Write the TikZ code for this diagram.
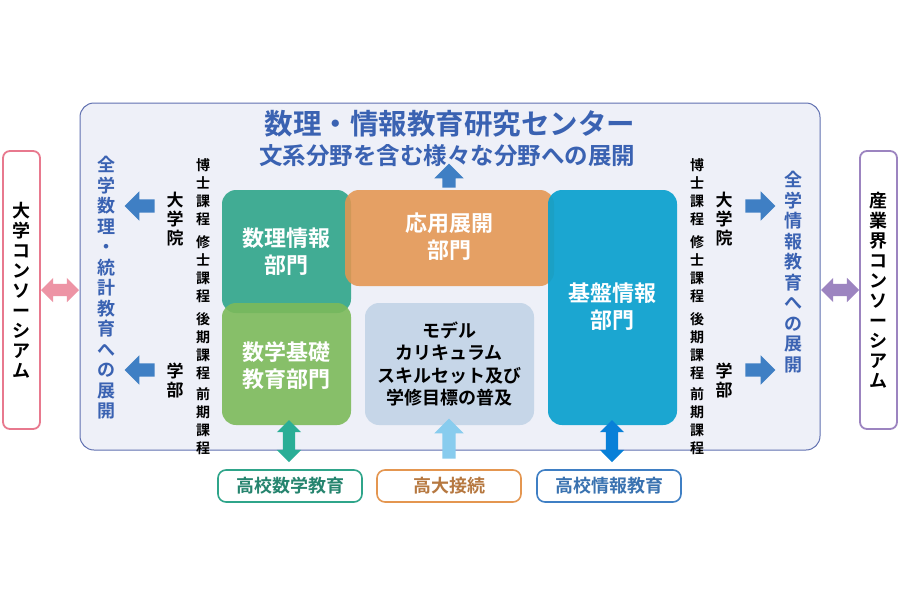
\documentclass[tikz,border=0pt]{standalone}
\usepackage{fontspec}
\setmainfont{Noto Sans CJK JP}
\newfontfamily\jb{Noto Sans CJK JP Bold}
\usetikzlibrary{shapes.arrows}
\definecolor{ttl}{HTML}{3A62B2}
\definecolor{outerb}{HTML}{6070B0}
\definecolor{outerf}{HTML}{EEF0F8}
\definecolor{cteal}{HTML}{2FA58A}
\definecolor{cgreen}{HTML}{7CBA5A}
\definecolor{corange}{HTML}{E49650}
\definecolor{cblue}{HTML}{0AA0CE}
\definecolor{clight}{HTML}{C6D6E8}
\definecolor{cpink}{HTML}{E8798E}
\definecolor{cpurple}{HTML}{9C84C0}
\definecolor{arrblue}{HTML}{3F7FC4}
\definecolor{arrlight}{HTML}{88CCEE}
\tikzset{
 x=1pt,y=-1pt,
 dept/.style={text=white,font=\jb\fontsize{22}{27}\selectfont,align=center,inner sep=0},
 vt/.style={font=\jb\fontsize{14}{18}\selectfont,align=center,inner sep=0},
 vtb/.style={font=\jb\fontsize{17}{19}\selectfont,align=center,inner sep=0},
 side/.style={font=\jb\fontsize{18}{20.5}\selectfont,align=center,text=ttl,inner sep=0},
 bot/.style={draw,line width=1.6pt,rounded corners=8pt,fill=white,minimum width=144pt,minimum height=32pt,font=\jb\fontsize{18}{20}\selectfont},
 sarr/.style={single arrow,draw=none,inner sep=6.5pt,single arrow head extend=8pt,single arrow head indent=0pt},
 darr/.style={double arrow,draw=none,inner sep=6pt,double arrow head extend=6pt,double arrow head indent=0pt},
}
\begin{document}
\begin{tikzpicture}
\useasboundingbox (0,0) rectangle (900,600);
\fill[white] (0,0) rectangle (900,600);
% outer
\draw[outerb,fill=outerf,line width=1pt,rounded corners=14pt] (80,103) rectangle (820,450);
\node (outer) at (450,276) {};
\node[font=\jb\fontsize{28.5}{30}\selectfont,text=ttl] (title) at (450,124) {数理・情報教育研究センター};
\node[font=\jb\fontsize{23.5}{26}\selectfont,text=ttl] (sub) at (447,156) {文系分野を含む様々な分野への展開};
% side boxes
\draw[cpink,line width=1.8pt,fill=white,rounded corners=7pt] (3,151) rectangle (40,429);
\node[font=\jb\fontsize{18}{20}\selectfont,align=center,inner sep=0] (lcons) at (21.5,290) {大\\学\\コ\\ン\\ソ\\ー\\シ\\ア\\ム};
\draw[cpurple,line width=1.8pt,fill=white,rounded corners=7pt] (860,151) rectangle (897,429);
\node[font=\jb\fontsize{18}{20}\selectfont,align=center,inner sep=0] (rcons) at (878.5,290) {産\\業\\界\\コ\\ン\\ソ\\ー\\シ\\ア\\ム};
\node[darr,fill=cpink!80,minimum height=38pt] (lda) at (60,290) {};
\node[darr,fill=cpurple,minimum height=38pt] (rda) at (840,290) {};
% departments
\fill[cteal,opacity=0.9,rounded corners=14pt] (222,190) rectangle (351,313);
\fill[cgreen,opacity=0.9,rounded corners=14pt] (222,303) rectangle (351,425);
\fill[corange,opacity=0.88,rounded corners=14pt] (345,190) rectangle (554,286);
\fill[cblue,opacity=0.92,rounded corners=14pt] (548,190) rectangle (677,425);
\fill[clight,rounded corners=14pt] (365,303) rectangle (534,425);
\node[dept] (suri) at (286,252) {数理情報\\部門};
\node[dept] (sugaku) at (286,366) {数学基礎\\教育部門};
\node[dept] (oyo) at (449,237) {応用展開\\部門};
\node[dept] (kiban) at (612,307) {基盤情報\\部門};
\node[font=\jb\fontsize{18}{22.5}\selectfont,align=center] (model) at (449,364) {モデル\\カリキュラム\\スキルセット及び\\学修目標の普及};
\node[sarr,fill=arrblue,shape border rotate=90,minimum height=24pt] (uparr) at (449,179) {};
% left vertical texts
\node[vt] (l1) at (203,192) {博\\士\\課\\程};
\node[vt] (l2) at (203,269) {修\\士\\課\\程};
\node[vt] (l3) at (203,346) {後\\期\\課\\程};
\node[vt] (l4) at (203,421) {前\\期\\課\\程};
\node[vtb] (ldai) at (175,219) {大\\学\\院};
\node[vtb] (lgak) at (175,380) {学\\部};
\node[sarr,fill=arrblue,shape border rotate=180,minimum height=30pt] (la1) at (143,206) {};
\node[sarr,fill=arrblue,shape border rotate=180,minimum height=30pt] (la2) at (143,370) {};
\node[side] (lside) at (106,288) {全\\学\\数\\理\\・\\統\\計\\教\\育\\へ\\の\\展\\開};
% right vertical texts
\node[vt] (r1) at (697,192) {博\\士\\課\\程};
\node[vt] (r2) at (697,269) {修\\士\\課\\程};
\node[vt] (r3) at (697,346) {後\\期\\課\\程};
\node[vt] (r4) at (697,421) {前\\期\\課\\程};
\node[vtb] (rdai) at (724,219) {大\\学\\院};
\node[vtb] (rgak) at (724,380) {学\\部};
\node[sarr,fill=arrblue,shape border rotate=0,minimum height=30pt] (ra1) at (757,206) {};
\node[sarr,fill=arrblue,shape border rotate=0,minimum height=30pt] (ra2) at (757,370) {};
\node[side] (rside) at (793,272) {全\\学\\情\\報\\教\\育\\へ\\の\\展\\開};
% bottom
\node[bot,draw=cteal,text=cteal!80!black] (b1) at (290,486) {高校数学教育};
\node[bot,draw=corange,text=corange!80!black] (b2) at (449,486) {高大接続};
\node[bot,draw=arrblue,text=arrblue!90!black] (b3) at (609,486) {高校情報教育};
\node[darr,fill=cteal!90!cyan,shape border rotate=90,minimum height=42pt] (d1) at (289,441) {};
\node[sarr,fill=arrlight,shape border rotate=90,minimum height=40pt] (d2) at (449,442) {};
\node[darr,fill=cblue!80!blue,shape border rotate=90,minimum height=42pt] (d3) at (612,441) {};
\end{tikzpicture}
\end{document}
